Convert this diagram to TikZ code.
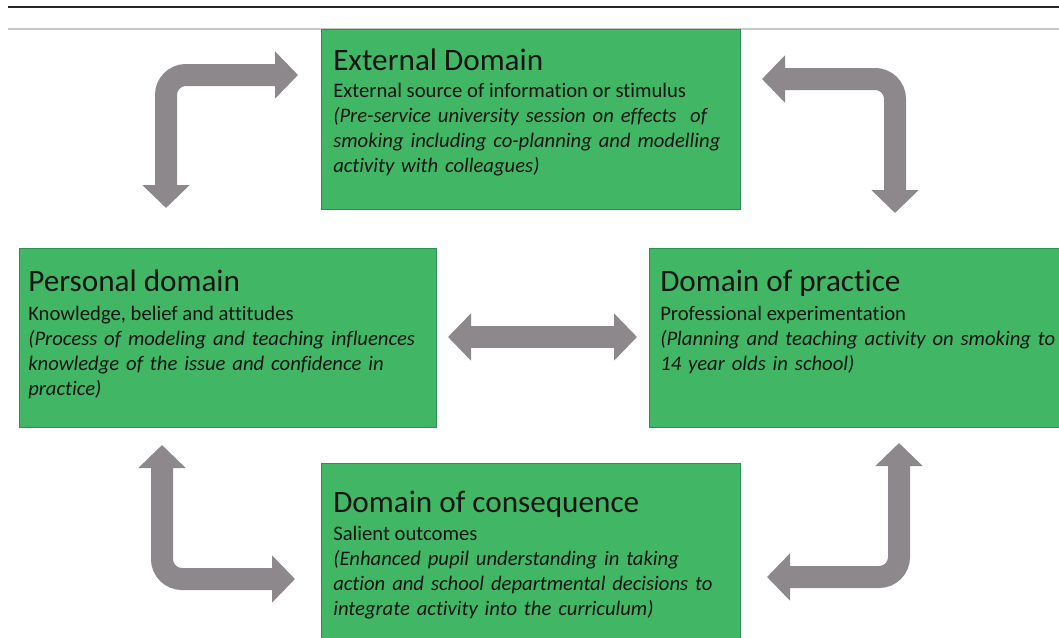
\documentclass[tikz,border=0pt]{standalone}
\usepackage{fontspec}
\setmainfont{Carlito}[Ligatures=NoCommon]
\usetikzlibrary{arrows.meta}
\definecolor{boxgreen}{HTML}{41B766}
\definecolor{boxedge}{HTML}{2E8F52}
\definecolor{arrowgray}{HTML}{8C888B}
\definecolor{txt}{HTML}{141414}
\tikzset{
  box/.style={draw=boxedge, fill=boxgreen, line width=0.75pt, inner sep=0pt, outer sep=0pt},
  ttl/.style={anchor=base west, inner sep=0pt, text=txt, font=\fontsize{23.4}{28}\selectfont},
  sub/.style={anchor=base west, inner sep=0pt, text=txt, font=\fontsize{15.5}{18.75}\selectfont},
  desc/.style={anchor=base west, inner sep=0pt, text=txt, text width=340pt, align=left, font=\fontsize{15.5}{18.75}\selectfont\itshape},
  bigarrow/.style={draw=arrowgray, line width=16.5pt, rounded corners=15pt,
    arrows={Triangle[width=34.5pt,length=17.25pt]-Triangle[width=34.5pt,length=17.25pt]}}
}
\begin{document}
\begin{tikzpicture}[x=0.75pt,y=-0.75pt]
\useasboundingbox (0,0) rectangle (1059,637);
\clip (0,0) rectangle (1059,637);
\fill[white] (0,0) rectangle (1059,637);
% rules
\coordinate (r1a) at (8,7); \coordinate (r1b) at (1059,7);
\coordinate (r2a) at (8,29); \coordinate (r2b) at (1059,29);
\draw[line width=1.2pt, black!85] (r1a) -- (r1b);
\draw[line width=0.8pt, black!22] (r2a) -- (r2b);
% boxes
\node[box, minimum width=314.25pt, minimum height=135pt] (ext) at (530.5,119) {};
\node[box, minimum width=312.75pt, minimum height=134.25pt] (pers) at (227.5,337.5) {};
\node[box, minimum width=311.25pt, minimum height=134.25pt] (prac) at (856.5,337.5) {};
\node[box, minimum width=314.25pt, minimum height=136.5pt] (cons) at (530.5,554) {};
% texts: external
\node[ttl] (ext-t) at (333,70) {External Domain};
\node[sub] (ext-s) at (333,97) {External source of information or stimulus};
\node[desc] (ext-d) at (333,122) {(Pre-service university session on effects\ \ of\\smoking including co-planning and modelling\\activity with colleagues)};
% personal
\node[ttl] (pers-t) at (28,291) {Personal domain};
\node[sub] (pers-s) at (28,320) {Knowledge, belief and attitudes};
\node[desc] (pers-d) at (28,345) {(Process of modeling and teaching influences\\knowledge of the issue and confidence in\\practice)};
% practice
\node[ttl] (prac-t) at (660,291) {Domain of practice};
\node[sub] (prac-s) at (660,320) {Professional\ experimentation};
\node[desc] (prac-d) at (660,345) {(Planning and teaching activity on smoking to\\14 year olds in school)};
% consequence
\node[ttl] (cons-t) at (333,512) {Domain of consequence};
\node[sub] (cons-s) at (333,540) {Salient outcomes};
\node[desc] (cons-d) at (333,565) {(Enhanced pupil understanding in taking\\action and school departmental decisions to\\integrate activity into the curriculum)};
% arrow end points
\coordinate (a1s) at (298,75); \coordinate (a1c) at (166,75); \coordinate (a1e) at (166,208);
\coordinate (a2s) at (762,79); \coordinate (a2c) at (895,79); \coordinate (a2e) at (895,213);
\coordinate (a3s) at (162,445); \coordinate (a3c) at (162,579); \coordinate (a3e) at (295,579);
\coordinate (a4s) at (899,443); \coordinate (a4c) at (899,577); \coordinate (a4e) at (767,577);
\coordinate (a5s) at (448,337); \coordinate (a5e) at (637,337);
\draw[bigarrow] (a1s) -- (a1c) -- (a1e);
\draw[bigarrow] (a2s) -- (a2c) -- (a2e);
\draw[bigarrow] (a3s) -- (a3c) -- (a3e);
\draw[bigarrow] (a4s) -- (a4c) -- (a4e);
\draw[bigarrow] (a5s) -- (a5e);
\end{tikzpicture}
\end{document}
